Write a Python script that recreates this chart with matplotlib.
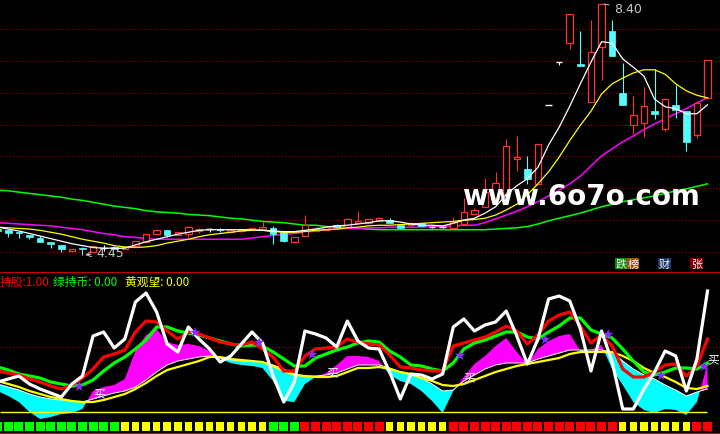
import numpy as np
import matplotlib.pyplot as plt
from matplotlib.patches import Rectangle

plt.rcParams['font.family'] = ['DejaVu Sans', 'Noto Sans CJK SC']
CJK = ['Noto Sans CJK SC', 'DejaVu Sans']

# ---- 主图: K线 (开 高 低 收) ----
opens = [4.86, 4.85, 4.81, 4.77, 4.72, 4.66, 4.61, 4.51, 4.55, 4.50, 4.56, 4.58, 4.54, 4.60, 4.66, 4.78, 4.85,
         4.77, 4.78, 4.83, 4.86, 4.86, 4.81, 4.83, 4.85, 4.86, 4.88, 4.81, 4.66, 4.75, 4.83, 4.85, 4.92, 4.90,
         4.96, 4.95, 4.98, 5.00, 4.93, 4.92, 4.95, 4.90, 4.89, 4.87, 4.94, 5.09, 5.20, 5.33, 5.41, 5.96, 5.80,
         5.56, 6.81, 7.48, 7.78, 7.45, 6.85, 7.71, 7.97, 6.99, 6.50, 6.52, 6.71, 6.43, 6.80, 6.71, 6.34, 6.92]
highs = [4.86, 4.85, 4.81, 4.77, 4.75, 4.66, 4.61, 4.55, 4.58, 4.59, 4.61, 4.59, 4.58, 4.68, 4.79, 4.86, 4.85,
         4.82, 4.91, 4.88, 4.87, 4.88, 4.85, 4.86, 4.88, 4.98, 4.91, 4.81, 4.73, 5.08, 4.89, 4.90, 4.94, 5.03,
         5.14, 5.02, 5.05, 5.03, 4.93, 4.97, 4.95, 4.91, 4.90, 5.05, 5.35, 5.19, 5.66, 5.75, 6.27, 6.32, 6.00,
         6.20, 6.81, 7.48, 8.24, 7.97, 8.14, 8.40, 8.14, 7.46, 6.95, 7.09, 7.38, 6.92, 7.12, 6.71, 6.84, 7.51]
lows = [4.81, 4.74, 4.72, 4.70, 4.66, 4.57, 4.50, 4.51, 4.45, 4.50, 4.51, 4.54, 4.54, 4.60, 4.66, 4.78, 4.74,
        4.76, 4.74, 4.80, 4.82, 4.82, 4.81, 4.82, 4.85, 4.86, 4.63, 4.65, 4.66, 4.75, 4.83, 4.84, 4.89, 4.90,
        4.96, 4.95, 4.98, 4.95, 4.88, 4.91, 4.91, 4.88, 4.87, 4.87, 4.94, 5.09, 5.20, 5.33, 5.41, 5.77, 5.57,
        5.56, 6.81, 7.44, 7.68, 7.42, 6.85, 7.20, 7.57, 6.80, 6.35, 6.31, 6.58, 6.40, 6.61, 6.09, 6.29, 6.92]
closes = [4.83, 4.80, 4.80, 4.73, 4.66, 4.62, 4.54, 4.55, 4.54, 4.59, 4.56, 4.55, 4.58, 4.68, 4.79, 4.85, 4.77,
          4.81, 4.90, 4.86, 4.86, 4.85, 4.85, 4.85, 4.88, 4.90, 4.78, 4.67, 4.73, 4.92, 4.86, 4.90, 4.89, 5.02,
          4.99, 5.02, 5.03, 4.95, 4.88, 4.96, 4.91, 4.90, 4.89, 4.97, 5.13, 5.16, 5.44, 5.59, 6.16, 5.99, 5.65,
          6.20, 6.81, 7.48, 8.24, 7.42, 7.64, 8.40, 7.57, 6.80, 6.65, 6.79, 6.66, 6.90, 6.73, 6.22, 6.84, 7.51]

ma5 = [4.89, 4.86, 4.83, 4.79, 4.75, 4.71, 4.67, 4.63, 4.60, 4.57, 4.56, 4.56, 4.56, 4.61, 4.66, 4.70, 4.74,
       4.78, 4.81, 4.84, 4.85, 4.85, 4.85, 4.85, 4.85, 4.84, 4.83, 4.82, 4.82, 4.84, 4.86, 4.89, 4.91, 4.92,
       4.94, 4.96, 4.99, 4.99, 4.97, 4.94, 4.92, 4.92, 4.91, 4.95, 5.00, 5.03, 5.11, 5.21, 5.40, 5.54, 5.65,
       5.83, 6.18, 6.46, 6.79, 7.14, 7.48, 7.80, 7.78, 7.53, 7.40, 7.26, 6.90, 6.78, 6.75, 6.67, 6.67, 6.81]
ma10 = [4.89, 4.88, 4.87, 4.86, 4.84, 4.81, 4.78, 4.74, 4.70, 4.67, 4.64, 4.60, 4.58, 4.57, 4.58, 4.60, 4.64,
        4.67, 4.70, 4.74, 4.77, 4.79, 4.81, 4.83, 4.84, 4.84, 4.82, 4.81, 4.81, 4.82, 4.84, 4.85, 4.86, 4.88,
        4.89, 4.91, 4.92, 4.92, 4.93, 4.94, 4.95, 4.96, 4.97, 4.98, 5.00, 5.01, 5.03, 5.08, 5.16, 5.25, 5.40,
        5.57, 5.76, 5.99, 6.25, 6.49, 6.71, 6.98, 7.14, 7.23, 7.31, 7.36, 7.36, 7.29, 7.14, 7.03, 6.96, 6.92]
ma20 = [4.96, 4.95, 4.94, 4.93, 4.92, 4.91, 4.89, 4.87, 4.85, 4.82, 4.79, 4.77, 4.74, 4.73, 4.71, 4.70, 4.70,
        4.70, 4.70, 4.70, 4.70, 4.70, 4.70, 4.70, 4.72, 4.74, 4.76, 4.78, 4.79, 4.81, 4.83, 4.85, 4.86, 4.87,
        4.87, 4.88, 4.88, 4.89, 4.89, 4.89, 4.89, 4.90, 4.90, 4.91, 4.92, 4.92, 4.96, 5.02, 5.08, 5.14, 5.21,
        5.29, 5.38, 5.47, 5.57, 5.69, 5.85, 6.01, 6.12, 6.23, 6.32, 6.42, 6.51, 6.59, 6.67, 6.75, 6.84, 6.92]
ma60 = [5.47, 5.46, 5.44, 5.42, 5.40, 5.38, 5.36, 5.33, 5.31, 5.28, 5.25, 5.22, 5.20, 5.18, 5.15, 5.13, 5.12,
        5.11, 5.09, 5.08, 5.07, 5.05, 5.03, 5.02, 5.00, 4.98, 4.97, 4.96, 4.94, 4.92, 4.92, 4.90, 4.89, 4.89,
        4.87, 4.86, 4.85, 4.85, 4.85, 4.85, 4.85, 4.85, 4.85, 4.85, 4.85, 4.85, 4.85, 4.86, 4.87, 4.88, 4.90,
        4.94, 4.99, 5.03, 5.07, 5.11, 5.16, 5.21, 5.25, 5.29, 5.32, 5.35, 5.38, 5.42, 5.46, 5.49, 5.53, 5.57]

# ---- 副图 ----
osc_white = [30, 33, 36, 28, 23, 19, 15, 28, 36, 76, 80, 64, 73, 110, 119, 100, 68, 60, 85, 73, 63, 50, 56,
             68, 80, 69, 36, 10, 30, 81, 78, 74, 65, 91, 71, 64, 63, 40, 13, 38, 37, 33, 38, 85, 93, 81, 87,
             90, 101, 76, 48, 73, 113, 116, 111, 83, 41, 81, 50, 3, 3, 23, 40, 61, 56, 21, 53, 121]
osc_red = [41, 39, 37, 33, 30, 26, 23, 27, 34, 43, 55, 58, 62, 80, 91, 90, 81, 73, 80, 78, 74, 70, 68, 67,
           70, 63, 55, 41, 41, 56, 63, 64, 65, 73, 70, 68, 67, 57, 45, 44, 42, 41, 41, 66, 69, 72, 75, 80,
           86, 81, 68, 77, 91, 97, 100, 86, 69, 77, 66, 43, 35, 35, 40, 47, 48, 36, 46, 73]
osc_green = [45, 42, 38, 36, 34, 30, 28, 26, 27, 32, 41, 49, 55, 63, 72, 85, 85, 81, 79, 77, 74, 71, 68,
             66, 67, 66, 60, 53, 46, 46, 54, 58, 62, 65, 69, 71, 70, 61, 55, 47, 46, 43, 41, 49, 63, 69,
             72, 76, 80, 80, 75, 73, 80, 86, 94, 94, 82, 78, 74, 63, 51, 40, 37, 40, 44, 44, 43, 49]
osc_yellow = [31, 28, 25, 21, 18, 15, 13, 11, 10, 10, 12, 15, 18, 23, 29, 36, 42, 45, 48, 51, 55, 55, 53,
              52, 51, 50, 46, 41, 37, 36, 35, 35, 36, 40, 44, 44, 45, 43, 40, 38, 34, 31, 27, 26, 28, 32,
              36, 40, 43, 46, 48, 50, 52, 54, 58, 60, 60, 60, 60, 56, 51, 44, 39, 35, 30, 24, 23, 26]
band_a = [21, 16, 10, 0, -7, -5, -2, -1, 3, 21, 25, 27, 33, 61, 77, 83, 70, 67, 68, 66, 61, 53, 49, 47, 46,
          44, 31, 11, 10, 28, 35, 39, 47, 56, 56, 55, 51, 37, 31, 28, 21, 11, -1, 21, 35, 48, 56, 66, 74,
          60, 48, 63, 71, 76, 78, 61, 62, 67, 43, 27, 10, 2, -1, 3, 2, -3, 10, 48]
band_b = [28, 25, 22, 18, 15, 13, 12, 11, 10, 13, 16, 19, 21, 25, 32, 40, 47, 51, 53, 55, 56, 54, 52, 51,
          51, 50, 47, 43, 38, 36, 36, 37, 39, 43, 47, 47, 47, 44, 40, 37, 34, 28, 21, 22, 31, 37, 43, 47,
          49, 49, 49, 53, 56, 59, 62, 62, 62, 62, 60, 51, 43, 37, 33, 27, 22, 16, 20, 23]
signal = list("G" * 12 + "Y" * 14 + "G" * 3 + "R" * 8 + "Y" * 6 + "R" * 16 + "Y" * 7 + "R" * 2)
star_idx = [7, 18, 24, 29, 43, 51, 57, 62, 66]
star_val = [26, 80, 70, 58, 57, 73, 78, 37, 46]
buy_idx = [9, 31, 44, 67]
buy_val = [19, 40, 35, 53]

RED = '#ff3030'
CYAN = '#54ffff'
GRID = '#a00000'

fig = plt.figure(figsize=(7.2, 4.35), dpi=100, facecolor='black')
ax1 = fig.add_axes([0, 162 / 435, 1, 273 / 435], facecolor='black')
ax2 = fig.add_axes([0, 0, 1, 162 / 435], facecolor='black')
for ax in (ax1, ax2):
    ax.set_xlim(0.217, 68.18)
    ax.set_xticks([])
    ax.set_yticks([])
    for s in ax.spines.values():
        s.set_visible(False)
ax1.set_ylim(4.186, 8.471)
ax2.set_ylim(-22, 140)

# 网格
for p in np.arange(4.5, 8.01, 0.5):
    ax1.axhline(p, color=GRID, lw=0.75, ls=(0, (1, 2)), zorder=0)
ax2.axhline(65, color=GRID, lw=0.75, ls=(0, (1, 2)), zorder=0)

# K线
x = np.arange(len(opens))
w = 0.62
for i in x:
    o, h, l, c = opens[i], highs[i], lows[i], closes[i]
    if c > o:
        ax1.vlines(i, c, h, color=RED, lw=0.8, zorder=3)
        ax1.vlines(i, l, o, color=RED, lw=0.8, zorder=3)
        ax1.add_patch(Rectangle((i - w / 2, o), w, c - o, fc='black', ec=RED, lw=0.9, zorder=3))
    elif c < o:
        ax1.vlines(i, l, h, color=CYAN, lw=0.8, zorder=3)
        ax1.add_patch(Rectangle((i - w / 2, c), w, max(o - c, 0.015), fc=CYAN, ec=CYAN, lw=0.5, zorder=3))
    else:
        ax1.vlines(i, l, h, color='white', lw=0.8, zorder=3)
        ax1.hlines(o, i - w / 2, i + w / 2, color='white', lw=1.0, zorder=3)

# 均线
ax1.plot(x, ma60, color='#00ff00', lw=1.1, zorder=2)
ax1.plot(x, ma20, color='#ff00ff', lw=1.1, zorder=2)
ax1.plot(x, ma10, color='#ffff00', lw=0.9, zorder=4)
ax1.plot(x, ma5, color='white', lw=0.9, zorder=4)

ax1.annotate('8.40', xy=(57, 8.40), xytext=(13, -5), textcoords='offset pixels',
             color='#c8c8c8', fontsize=9, ha='left', va='center',
             arrowprops=dict(arrowstyle='-', color='#c8c8c8', lw=0.7))
ax1.annotate('4.45', xy=(8, 4.45), xytext=(14, 3), textcoords='offset pixels',
             color='#c8c8c8', fontsize=9, ha='left', va='center',
             arrowprops=dict(arrowstyle='->', color='#c8c8c8', lw=0.7))

# 副图
a = np.array(band_a)
b = np.array(band_b)
ax2.fill_between(x, a, b, where=a >= b, interpolate=True, color='#ff00ff', lw=0, zorder=1)
ax2.fill_between(x, a, b, where=a < b, interpolate=True, color='#00ffff', lw=0, zorder=1)
ax2.plot(x, band_b, color='white', lw=0.7, zorder=2)
ax2.plot(x, osc_yellow, color='#ffff00', lw=1.6, zorder=3)
ax2.plot(x, osc_green, color='#00ff00', lw=2.3, zorder=4)
ax2.plot(x, osc_red, color='#ff0000', lw=2.3, zorder=5)
ax2.plot(x, osc_white, color='white', lw=2.3, zorder=6)
ax2.hlines(0, 0.217, 67, color='#ffff00', lw=1, zorder=2)

for i, v in zip(star_idx, star_val):
    ax2.text(i, v, '★', color='#8a2cff', fontsize=10, ha='left', va='center', zorder=7)
for i, v in zip(buy_idx, buy_val):
    ax2.text(i, v, '买', color='white', fontsize=8.5, family=CJK, ha='left', va='center', zorder=8)

colmap = {'G': '#00ff00', 'Y': '#ffff00', 'R': '#ff0000'}
for i, s in enumerate(signal):
    ax2.bar(i, 9, bottom=-18.7, width=0.7 if s == 'Y' else 0.85, color=colmap[s], lw=0, zorder=2)

ax2.spines['top'].set_visible(True)
ax2.spines['top'].set_color('#c00000')
ax2.spines['bottom'].set_visible(True)
ax2.spines['bottom'].set_color('#c00000')
ax2.spines['bottom'].set_position(('data', -21))

# 文字
ty = 1 - 282 / 435
fig.text(0, ty, '持股:1.00', color='#ff0000', fontsize=8.5, family=CJK, ha='left', va='center')
fig.text(53 / 720, ty, '绿持币: 0.00', color='#00ff00', fontsize=8.5, family=CJK, ha='left', va='center')
fig.text(125 / 720, ty, '黄观望: 0.00', color='#ffff00', fontsize=8.5, family=CJK, ha='left', va='center')

iy = 1 - 264.5 / 435
for t, xp, bg in [('跌', 621, '#009000'), ('榜', 633, '#9a5200'), ('财', 664.5, '#1a3a6a'), ('张', 696.5, '#800000')]:
    fig.text(xp / 720, iy, t, color='#f0f0f0', fontsize=8, family=CJK, ha='center', va='center',
             bbox=dict(boxstyle='square,pad=0.08', fc=bg, ec='none'))

fig.text(581 / 720, 1 - 197 / 435, 'www.6o7o.com', color='white', fontsize=20, fontweight='bold',
         ha='center', va='center', zorder=10)

fig.savefig('out.png', dpi=100, facecolor='black')
